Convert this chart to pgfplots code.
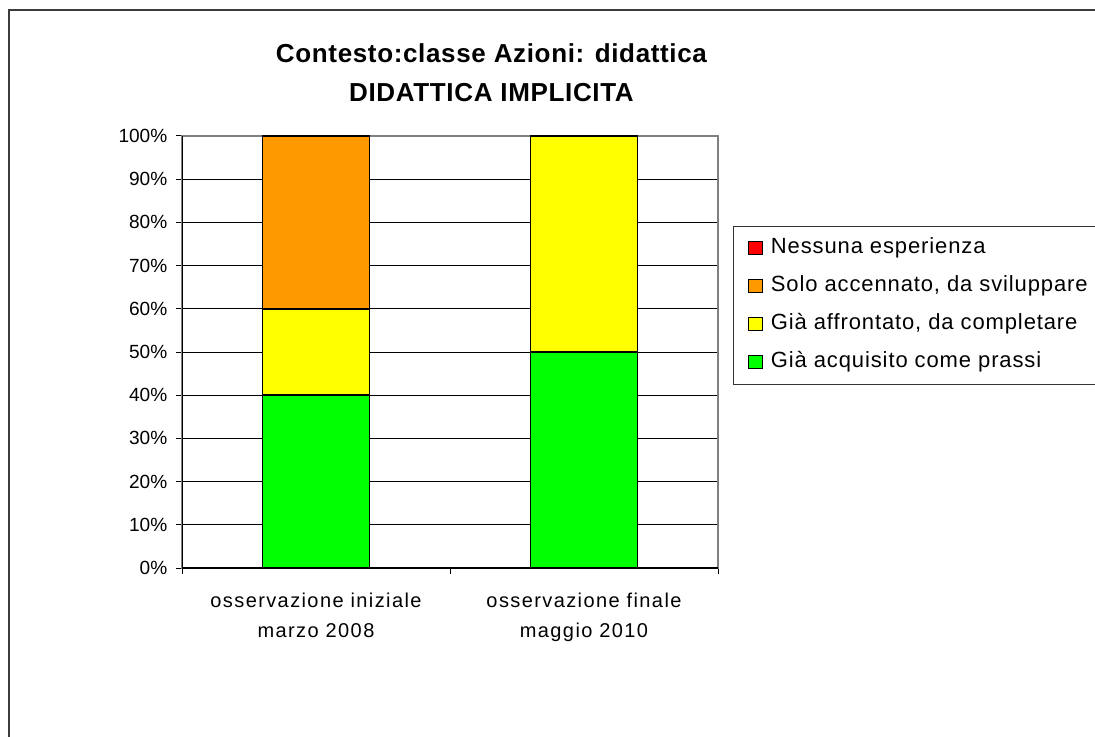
\documentclass[border=0pt]{standalone}
\usepackage{pgfplots}
\pgfplotsset{compat=1.18}
\usepackage{fontspec}
\setmainfont{Liberation Sans}
\definecolor{cgreen}{RGB}{0,255,0}
\definecolor{cyellow}{RGB}{255,255,0}
\definecolor{corange}{RGB}{255,153,0}
\definecolor{cred}{RGB}{255,0,0}
\definecolor{frame}{RGB}{60,60,60}
\definecolor{pgray}{RGB}{128,128,128}
\begin{document}
\begin{tikzpicture}
\useasboundingbox (0pt,0pt) rectangle (821.25pt,552pt);
\draw[line width=1.5pt, frame] (6.75pt,-10pt) -- (6.75pt,544.5pt) -- (830pt,544.5pt);
\node[font={\fontsize{19.5}{28.8}\selectfont\bfseries\addfontfeature{LetterSpace=2.5}}, align=center, anchor=center] at (368.6pt,497.5pt) {Contesto:classe Azioni: didattica\\DIDATTICA IMPLICITA};
\begin{axis}[
 at={(136.5pt,126pt)}, anchor=south west,
 scale only axis, width=402pt, height=324pt,
 xmin=-0.5, xmax=1.5, ymin=0, ymax=100,
 ybar stacked, bar width=80.25pt,
 tick pos=left,
 xtick={-0.5,0.5,1.5}, xticklabels={},
 extra x ticks={0,1},
 extra x tick labels={{osservazione iniziale\\marzo 2008},{osservazione finale\\maggio 2010}},
 extra x tick style={major tick length=0pt, xticklabel style={align=center, yshift=-15.5pt, font={\fontsize{15}{22.5}\selectfont\addfontfeature{LetterSpace=7}}}},
 ytick={0,10,...,100},
 yticklabel={\pgfmathprintnumber{\tick}\%},
 /pgf/number format/assume math mode=true,
 yticklabel style={font={\fontsize{14.3}{16}\selectfont}, xshift=-3pt},
 ymajorgrids, grid style={black, line width=0.75pt},
 tick align=outside, major tick length=4.5pt,
 tick style={black, line width=0.75pt},
 axis line style={pgray, line width=1pt},
 reverse legend,
 legend cell align=left,
 legend style={at={(1.028,0.7917)}, anchor=north west, draw=black!80, line width=0.75pt,
   font={\fontsize{16.5}{19}\selectfont\addfontfeature{LetterSpace=4}},
   nodes={inner ysep=0pt, text height=12pt, text depth=4pt},
   row sep=12.5pt, inner xsep=6pt, inner ysep=8.5pt},
 legend image code/.code={\path (0pt,0pt) (18.75pt,0pt);
   \draw[#1, draw=black, line width=0.9pt] (4.5pt,-4.75pt) rectangle (15pt,5pt);},
]
\addplot[fill=cgreen, draw=black, line width=1.3pt] coordinates {(0,40) (1,50)};
\addlegendentry{Già acquisito come prassi}
\addplot[fill=cyellow, draw=black, line width=1.3pt] coordinates {(0,20) (1,50)};
\addlegendentry{Già affrontato, da completare}
\addplot[fill=corange, draw=black, line width=1.3pt] coordinates {(0,40) (1,0)};
\addlegendentry{Solo accennato, da sviluppare}
\addplot[fill=cred, draw=black, line width=1.3pt] coordinates {(0,0) (1,0)};
\addlegendentry{Nessuna esperienza}
\draw[black, line width=1pt] (rel axis cs:0,1) -- (rel axis cs:0,0) -- (rel axis cs:1,0);
\end{axis}
\end{tikzpicture}
\end{document}
